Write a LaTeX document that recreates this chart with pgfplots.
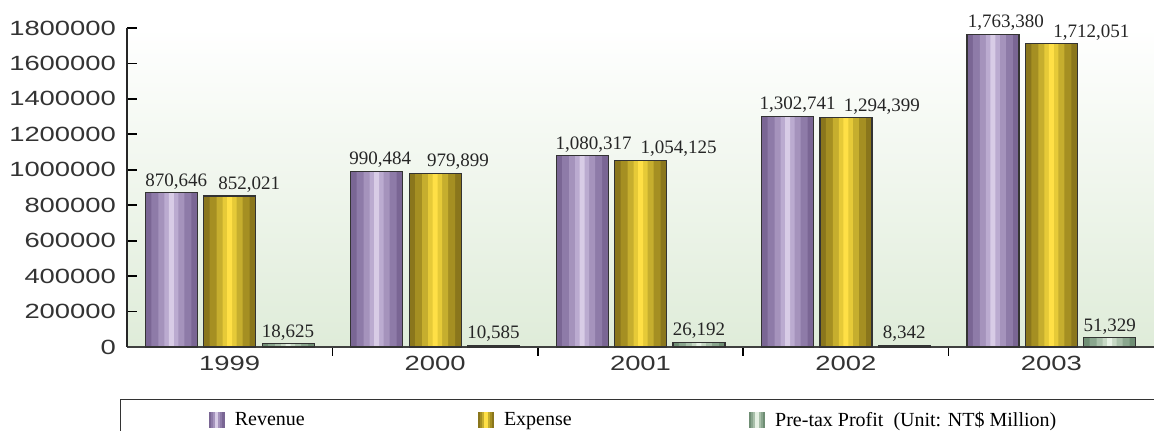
\documentclass[border=0pt]{standalone}
\usepackage{pgfplots}
\pgfplotsset{compat=1.18}
\usepackage{fontspec}
\setmainfont{Liberation Serif}
\newfontfamily\tickfont[FakeStretch=1.33]{Liberation Sans}
% purple
\definecolor{revA}{HTML}{7A6694}
\definecolor{revB}{HTML}{8E7BA8}
\definecolor{revC}{HTML}{A593BC}
\definecolor{revD}{HTML}{BBABD0}
\definecolor{revE}{HTML}{D8CCE6}
% gold
\definecolor{expA}{HTML}{8A761C}
\definecolor{expB}{HTML}{A58F22}
\definecolor{expC}{HTML}{C6AE2E}
\definecolor{expD}{HTML}{E6CA38}
\definecolor{expE}{HTML}{FFE046}
% green
\definecolor{proA}{HTML}{6F8E74}
\definecolor{proB}{HTML}{8AA68E}
\definecolor{proC}{HTML}{A9C0AA}
\definecolor{proD}{HTML}{C6D8C4}
\definecolor{proE}{HTML}{E6F1E4}
\definecolor{bgB}{HTML}{DFECD9}
\definecolor{ticktxt}{HTML}{333333}
\pgfplotstableread{
x rev exp pro drev dexp dpro
0 870646 852021 18625 2.5 9.75 0
1 990484 979899 10585 1.75 11.5 0
2 1080317 1054125 26192 5.75 19 0
3 1302741 1294399 8342 5 18 0
4 1763380 1712051 51329 6.5 20 0
}\datatable
\pgfplotsset{
  layer/.style n args={3}{forget plot, draw=none, fill=#3, bar shift=#1, bar width=#2},
  outline/.style 2 args={draw=black!80, line width=0.6pt, fill=none, bar width=26pt, bar shift=#1,
    visualization depends on={\thisrow{#2} \as \dx},
    nodes near coords,
    nodes near coords style={font=\fontsize{9.5}{11}\selectfont, text=black!85, inner sep=1.5pt,
      xshift=\dx pt,
      /pgf/number format/.cd, fixed, 1000 sep={,}, assume math mode=true}},
}
\newcommand{\legimg}[1]{%
  \fill[#1A] (0pt,-3.5pt) rectangle (7.5pt,3.8pt);
  \fill[#1B] (1.2pt,-3.5pt) rectangle (6.3pt,3.8pt);
  \fill[#1C] (2.2pt,-3.5pt) rectangle (5.3pt,3.8pt);
  \fill[#1E] (3.2pt,-3.5pt) rectangle (4.3pt,3.8pt);}
\begin{document}
\begin{tikzpicture}
\begin{axis}[
  at={(0,0)}, anchor=south west,
  scale only axis,
  width=513.5pt, height=159.5pt,
  xmin=-0.5, xmax=4.5, ymin=0, ymax=1800000,
  axis lines*=left,
  tick align=inside,
  x axis line style={draw=black!75, line width=0.6pt},
  y axis line style={draw=black!85, line width=1.2pt},
  axis background/.style={top color=white, bottom color=bgB},
  xtick={0,1,2,3,4},
  xticklabels={1999,2000,2001,2002,2003},
  xtick style={draw=none},
  minor xtick={0.5,1.5,2.5,3.5},
  minor tick length=4.5pt,
  minor x tick style={draw=black, line width=0.8pt},
  ytick={0,200000,...,1800000},
  yticklabels={0,200000,400000,600000,800000,1000000,1200000,1400000,1600000,1800000},
  major tick length=5pt,
  ytick style={draw=black, line width=0.9pt},
  scaled y ticks=false,
  tick label style={font=\tickfont\fontsize{10.3}{12}\selectfont, text=ticktxt},
  yticklabel style={xshift=-2pt},
  xticklabel style={yshift=4pt},
  ybar, bar width=26pt,
  clip=false,
  legend columns=3,
  legend style={at={(-3.5pt,-26pt)}, anchor=north west, draw=black!80, line width=0.6pt,
    inner xsep=44pt, inner ysep=4pt, font=\fontsize{10}{12}\selectfont,
    /tikz/every odd column/.append style={column sep=3pt},
    /tikz/every even column/.append style={column sep=7.5pt}},
]
% Revenue
\addplot[layer={-29.2pt}{26pt}{revA}] table[x=x, y=rev] {\datatable};
\addplot[layer={-29.2pt}{20pt}{revB}] table[x=x, y=rev] {\datatable};
\addplot[layer={-29.2pt}{13pt}{revC}] table[x=x, y=rev] {\datatable};
\addplot[layer={-29.2pt}{7pt}{revD}] table[x=x, y=rev] {\datatable};
\addplot[layer={-29.2pt}{2.5pt}{revE}] table[x=x, y=rev] {\datatable};
\addplot[outline={-29.2pt}{drev}, legend image code/.code={\legimg{rev}}] table[x=x, y=rev] {\datatable};
\addlegendentry{\makebox[112pt][l]{Revenue}}
% Expense
\addplot[layer={0pt}{26pt}{expA}] table[x=x, y=exp] {\datatable};
\addplot[layer={0pt}{20pt}{expB}] table[x=x, y=exp] {\datatable};
\addplot[layer={0pt}{13pt}{expC}] table[x=x, y=exp] {\datatable};
\addplot[layer={0pt}{7pt}{expD}] table[x=x, y=exp] {\datatable};
\addplot[layer={0pt}{2.5pt}{expE}] table[x=x, y=exp] {\datatable};
\addplot[outline={0pt}{dexp}, legend image code/.code={\legimg{exp}}] table[x=x, y=exp] {\datatable};
\addlegendentry{\makebox[113pt][l]{Expense}}
% Profit
\addplot[layer={29.2pt}{26pt}{proA}] table[x=x, y=pro] {\datatable};
\addplot[layer={29.2pt}{20pt}{proB}] table[x=x, y=pro] {\datatable};
\addplot[layer={29.2pt}{13pt}{proC}] table[x=x, y=pro] {\datatable};
\addplot[layer={29.2pt}{7pt}{proD}] table[x=x, y=pro] {\datatable};
\addplot[layer={29.2pt}{2.5pt}{proE}] table[x=x, y=pro] {\datatable};
\addplot[outline={29.2pt}{dpro}, legend image code/.code={\legimg{pro}}] table[x=x, y=pro] {\datatable};
\addlegendentry{\makebox[200pt][l]{Pre-tax Profit\ \ (Unit: NT\$ Million)}}
\end{axis}
\pgfresetboundingbox
\useasboundingbox (-63.5pt,-42pt) rectangle (513.5pt,173.5pt);
\end{tikzpicture}
\end{document}
